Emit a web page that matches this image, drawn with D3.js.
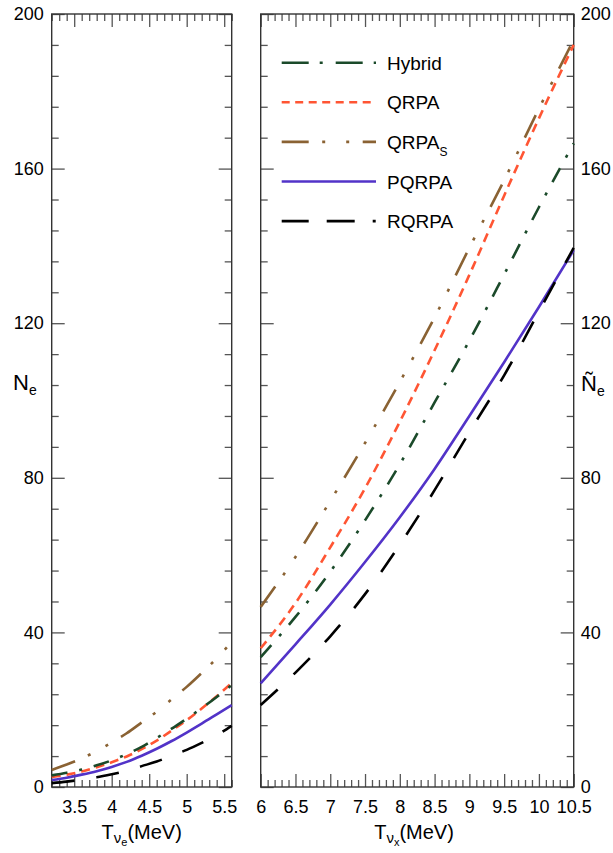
<!DOCTYPE html>
<html>
<head>
<meta charset="utf-8">
<script src="https://cdn.jsdelivr.net/npm/d3@7"></script>
<style>
  body { margin: 0; background: #fff; }
  svg { display: block; font-family: "Liberation Sans", Arial, Helvetica, sans-serif; }
</style>
</head>
<body>
<svg id="chart" width="613" height="853"></svg>
<script>
// Series names, in legend order
var seriesNames = ["Hybrid", "QRPA", "QRPA_S", "PQRPA", "RQRPA"];

// Left panel: T_nu_e (MeV)
var leftT = [3.2, 3.4, 3.6, 3.8, 4.0, 4.2, 4.4, 4.6, 4.8, 5.0, 5.2, 5.4, 5.6];
var leftHybrid = [3.0, 3.7, 4.5, 5.6, 6.9, 8.5, 10.4, 12.7, 15.1, 17.7, 20.4, 23.3, 26.4];
var leftQRPA   = [2.6, 3.2, 4.0, 5.1, 6.4, 7.9, 9.8, 12.0, 14.6, 17.3, 20.3, 23.5, 26.9];
var leftQRPAS  = [4.4, 5.8, 7.4, 9.3, 11.5, 13.9, 16.7, 19.5, 22.7, 25.9, 29.5, 33.3, 37.5];
var leftPQRPA  = [1.8, 2.4, 3.2, 4.1, 5.2, 6.5, 8.1, 9.9, 11.9, 14.1, 16.4, 18.8, 21.2];
var leftRQRPA  = [1.0, 1.4, 1.9, 2.5, 3.3, 4.2, 5.4, 6.6, 8.1, 9.6, 11.4, 13.4, 15.8];

// Right panel: T_nu_x (MeV)
var rightT = [6, 6.5, 7, 7.5, 8, 8.5, 9, 9.5, 10, 10.5];
var rightHybrid = [33.6, 44.0, 55.7, 69.0, 83.5, 99.5, 115.5, 132.6, 150.0, 166.5];
var rightQRPA   = [35.9, 47.6, 62.0, 77.3, 94.5, 113.0, 132.5, 153.0, 173.0, 192.0];
var rightQRPAS  = [46.6, 59.5, 74.0, 89.0, 104.8, 121.5, 139.5, 157.0, 175.5, 193.3];
var rightPQRPA  = [26.8, 36.9, 47.2, 58.2, 69.8, 82.3, 96.0, 109.9, 124.2, 138.9];
var rightRQRPA  = [21.2, 29.6, 39.0, 49.9, 62.7, 76.8, 91.8, 106.5, 123.0, 139.5];

// Tick labels
var yTicks = [0, 40, 80, 120, 160, 200];
var leftXTicks = [3.5, 4, 4.5, 5, 5.5];
var rightXTicks = [6, 6.5, 7, 7.5, 8, 8.5, 9, 9.5, 10, 10.5];

// styles
var colors = {Hybrid: "#1b4a2a", QRPA: "#ff5533", QRPA_S: "#8a6233", PQRPA: "#5233c8", RQRPA: "#000"};
var dashes = {Hybrid: "16,12,3,12", QRPA: "9,6", QRPA_S: "25,14,3,17,3,15", PQRPA: null, RQRPA: "23,22"};
var legendDashes = {Hybrid: "27,11,3,13", QRPA: "8,5.5", QRPA_S: "27,13.5,3,21,3,13.5", PQRPA: null, RQRPA: "27,18,28,18,3"};

var svg = d3.select("#chart");

var yTop = 14, yBot = 787;
var y = d3.scaleLinear().domain([0, 200]).range([yBot, yTop]);
var xL = d3.scaleLinear().domain([3.2, 5.6]).range([51.7, 231.7]);
var xR = d3.scaleLinear().domain([6, 10.5]).range([260.7, 573.7]);

var majorLen = 13, minorLen = 7;
var yMinor = d3.range(0, 201, 8).filter(function(d) { return d % 40 != 0; });

function minorX(lo, hi) {
  return d3.range(Math.round(lo * 10), Math.round(hi * 10) + 1)
    .filter(function(d) { return d % 5 != 0; })
    .map(function(d) { return d / 10; });
}

function styleAxis(g) {
  g.select(".domain").remove();
  g.selectAll(".tick line").attr("stroke", "#555").attr("stroke-width", 1.3);
  g.selectAll(".tick text").attr("fill", "#000").style("font-size", "18px");
}

// draw the frame, ticks of one panel
function drawPanel(x, majors, leftLabels, rightLabels) {
  var x0 = x.range()[0], x1 = x.range()[1];
  var minors = minorX(x.domain()[0], x.domain()[1]);
  var fmt = d3.format("");

  // bottom
  svg.append("g").attr("transform", "translate(0," + yBot + ")")
    .call(d3.axisBottom(x).tickValues(majors).tickSize(-majorLen).tickPadding(13).tickFormat(fmt))
    .call(styleAxis);
  svg.append("g").attr("transform", "translate(0," + yBot + ")")
    .call(d3.axisBottom(x).tickValues(minors).tickSize(-minorLen).tickFormat(""))
    .call(styleAxis);
  // top
  svg.append("g").attr("transform", "translate(0," + yTop + ")")
    .call(d3.axisTop(x).tickValues(majors).tickSize(-majorLen).tickFormat(""))
    .call(styleAxis);
  svg.append("g").attr("transform", "translate(0," + yTop + ")")
    .call(d3.axisTop(x).tickValues(minors).tickSize(-minorLen).tickFormat(""))
    .call(styleAxis);
  // left
  svg.append("g").attr("transform", "translate(" + x0 + ",0)")
    .call(d3.axisLeft(y).tickValues(yTicks).tickSize(-majorLen).tickPadding(8)
      .tickFormat(leftLabels ? fmt : ""))
    .call(styleAxis);
  svg.append("g").attr("transform", "translate(" + x0 + ",0)")
    .call(d3.axisLeft(y).tickValues(yMinor).tickSize(-minorLen).tickFormat(""))
    .call(styleAxis);
  // right
  svg.append("g").attr("transform", "translate(" + x1 + ",0)")
    .call(d3.axisRight(y).tickValues(yTicks).tickSize(-majorLen).tickPadding(7)
      .tickFormat(rightLabels ? fmt : ""))
    .call(styleAxis);
  svg.append("g").attr("transform", "translate(" + x1 + ",0)")
    .call(d3.axisRight(y).tickValues(yMinor).tickSize(-minorLen).tickFormat(""))
    .call(styleAxis);

  svg.append("rect")
    .attr("x", x0).attr("y", yTop)
    .attr("width", x1 - x0).attr("height", yBot - yTop)
    .attr("fill", "none").attr("stroke", "#333").attr("stroke-width", 1.4);
}

function drawCurves(x, ts, seriesList) {
  var line = d3.line()
    .x(function(d) { return x(d[0]); })
    .y(function(d) { return y(d[1]); })
    .curve(d3.curveMonotoneX);
  // solid line first, dashes on top
  seriesList.forEach(function(s) {
    var pts = ts.map(function(t, i) { return [t, s.values[i]]; });
    svg.append("path")
      .attr("d", line(pts))
      .attr("fill", "none")
      .attr("stroke", colors[s.name])
      .attr("stroke-width", 2.6)
      .attr("stroke-dasharray", dashes[s.name]);
  });
}

drawPanel(xL, leftXTicks, true, false);
drawPanel(xR, rightXTicks, false, true);

drawCurves(xL, leftT, [
  {name: "PQRPA", values: leftPQRPA},
  {name: "RQRPA", values: leftRQRPA},
  {name: "QRPA_S", values: leftQRPAS},
  {name: "QRPA", values: leftQRPA},
  {name: "Hybrid", values: leftHybrid}
]);
drawCurves(xR, rightT, [
  {name: "PQRPA", values: rightPQRPA},
  {name: "RQRPA", values: rightRQRPA},
  {name: "QRPA_S", values: rightQRPAS},
  {name: "QRPA", values: rightQRPA},
  {name: "Hybrid", values: rightHybrid}
]);

// Legend
var legend = svg.append("g");
seriesNames.forEach(function(name, i) {
  var ly = 62.7 + i * 39.6;
  legend.append("line")
    .attr("x1", 281.7).attr("x2", 376)
    .attr("y1", ly).attr("y2", ly)
    .attr("stroke", colors[name])
    .attr("stroke-width", 2.6)
    .attr("stroke-dasharray", legendDashes[name]);
  var txt = legend.append("text")
    .attr("x", 387).attr("y", ly + 7)
    .style("font-size", "19px");
  if (name == "QRPA_S") {
    txt.append("tspan").text("QRPA");
    txt.append("tspan").attr("dy", 7).style("font-size", "12px").text("S");
  } else {
    txt.text(name);
  }
});

// Axis titles
var nl = svg.append("text").attr("x", 13).attr("y", 390).style("font-size", "22px");
nl.append("tspan").text("N");
nl.append("tspan").attr("dy", 5).style("font-size", "14px").text("e");

var nr = svg.append("text").attr("x", 581).attr("y", 391).style("font-size", "22px");
nr.append("tspan").text("\u00D1");
nr.append("tspan").attr("dy", 5).style("font-size", "14px").text("e");

function xTitle(cx, flavour) {
  var t = svg.append("text").attr("x", cx).attr("y", 839)
    .attr("text-anchor", "middle").style("font-size", "20px");
  t.append("tspan").text("T");
  t.append("tspan").attr("dy", 4).style("font-size", "15px").text("\u03BD");
  t.append("tspan").attr("dy", 3).style("font-size", "11px").text(flavour);
  t.append("tspan").attr("dy", -7).text("(MeV)");
}
xTitle(141.7, "e");
xTitle(414, "x");
</script>
</body>
</html>
